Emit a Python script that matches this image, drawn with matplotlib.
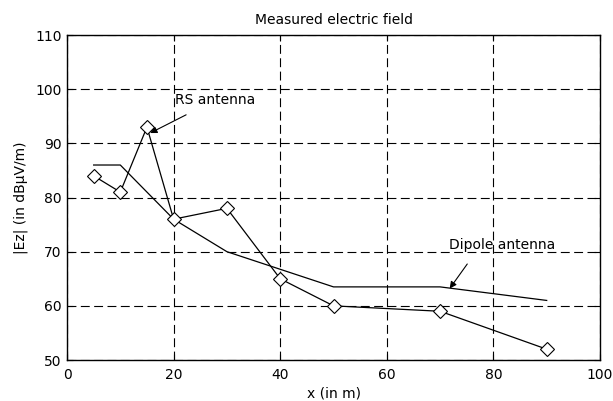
import matplotlib
matplotlib.use("Agg")
import matplotlib.pyplot as plt

x_rs = [5, 10, 15, 20, 30, 40, 50, 70, 90]
y_rs = [84, 81, 93, 76, 78, 65, 60, 59, 52]

x_dip = [5, 10, 20, 30, 50, 70, 90]
y_dip = [86, 86, 76, 70, 63.5, 63.5, 61]

xticks = [0, 20, 40, 60, 80, 100]
yticks = [50, 60, 70, 80, 90, 100, 110]

plt.rcParams['font.family'] = ['DejaVu Sans']

fig = plt.figure(figsize=(6.13, 4.01), dpi=100)
ax = fig.add_axes([0.1093, 0.1022, 0.8695, 0.8105])

ax.plot(x_dip, y_dip, color='black', lw=0.9)
ax.plot(x_rs, y_rs, color='black', lw=0.9, marker='D', markersize=7,
        markerfacecolor='white', markeredgecolor='black', markeredgewidth=0.8)

ax.set_xlim(0, 100)
ax.set_ylim(50, 110)
ax.set_xticks(xticks)
ax.set_yticks(yticks)
ax.tick_params(direction='in', length=4, right=True, top=True, labelsize=10)
ax.tick_params(axis='x', pad=6)
ax.tick_params(axis='y', pad=4)
ax.grid(True, color='black', linestyle=(0, (8, 4)), lw=0.8)
for s in ax.spines.values():
    s.set_linewidth(1.0)

ax.set_title('Measured electric field', fontsize=10, pad=8)
ax.set_xlabel('x (in m)', fontsize=10, labelpad=3)
ax.set_ylabel('|Ez| (in dBμV/m)', fontsize=10, labelpad=5)

# annotations with arrows
ax.annotate('RS antenna', xy=(15.6, 91.9), xytext=(20.3, 98),
            ha='left', va='center', fontsize=10,
            arrowprops=dict(arrowstyle='-|>', color='black', lw=0.8,
                            mutation_scale=10, shrinkA=8, shrinkB=0))
ax.annotate('Dipole antenna', xy=(71.8, 63.2), xytext=(71.7, 71.2),
            ha='left', va='center', fontsize=10,
            arrowprops=dict(arrowstyle='-|>', color='black', lw=0.8,
                            mutation_scale=10, shrinkA=8, shrinkB=0,
                            relpos=(0.25, 0.0)))

fig.savefig('out.png', dpi=100)
